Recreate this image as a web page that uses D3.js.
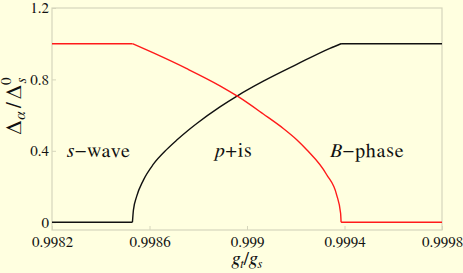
<!DOCTYPE html>
<html>
<head>
<meta charset="utf-8">
<script src="https://cdn.jsdelivr.net/npm/d3@7"></script>
</head>
<body style="margin:0;background:#ffffe0">
<svg id="svg_canvas" width="463" height="273" style="display:block"></svg>
<script>

// values
var x_ticks=[0.9982,0.9986,0.999,0.9994,0.9998];
var x_tick_labels=["0.9982","0.9986","0.999","0.9994","0.9998"];
var y_ticks=[0,0.4,0.8,1.2];
var y_tick_labels=["0","0.4","0.8","1.2"];

var g_black=[0.9982,0.99853,0.998534,0.998547,0.998575,0.998616,0.998671,0.998712,0.998759,0.998794,0.998889,0.998964,0.999067,0.999204,0.99934,0.999386,0.9998];
var delta_black=[0,0,0.068,0.143,0.236,0.325,0.408,0.46,0.515,0.553,0.646,0.711,0.79,0.884,0.974,1,1];

var g_red=[0.9982,0.99853,0.998616,0.998753,0.998889,0.998964,0.999067,0.999149,0.999204,0.999245,0.999327,0.999368,0.999384,0.999386,0.9998];
var delta_red=[1,1,0.948,0.86,0.764,0.703,0.606,0.525,0.462,0.406,0.266,0.152,0.05,0,0];

var phase_names=["s\u2212wave","p+is","B\u2212phase"];
var phase_g=[0.998262,0.998869,0.99934];
var phase_y=[0.365,0.365,0.365];

var serif="FreeSerif";


function set_font(sel,size){
	sel.attr("font-family",serif).style("font-family",serif)
		.attr("font-size",size).style("font-size",size+"px");
	return sel;
}

function draw(){

	var svg=d3.select("#svg_canvas");
	var left_x=52, right_x=442, top_y=8, bottom_y=230;

	svg.append("rect")
		.attr("width",463).attr("height",273)
		.attr("fill","#ffffe0");

	var x=d3.scaleLinear().domain([0.9982,0.9998]).range([left_x,right_x]);
	// zero sits a bit above the frame bottom, 1.2 on the top edge
	var y=d3.scaleLinear().domain([0,1.2]).range([222.2,top_y]);

	// frame
	svg.append("rect")
		.attr("x",left_x).attr("y",top_y)
		.attr("width",right_x-left_x).attr("height",bottom_y-top_y)
		.attr("fill","none")
		.attr("stroke","#d6d6bc")
		.attr("stroke-width",1.2);

	var x_axis=d3.axisBottom(x).tickValues(x_ticks)
		.tickFormat(function(d,i){return x_tick_labels[i];})
		.tickSizeInner(-4).tickSizeOuter(0).tickPadding(6);
	var gx=svg.append("g").attr("transform","translate(0,"+bottom_y+")").call(x_axis);

	var y_axis=d3.axisLeft(y).tickValues(y_ticks)
		.tickFormat(function(d,i){return y_tick_labels[i];})
		.tickSizeInner(-4).tickSizeOuter(0).tickPadding(3);
	var gy=svg.append("g").attr("transform","translate("+left_x+",0)").call(y_axis);

	[gx,gy].forEach(function(g){
		set_font(g,15);
		g.select(".domain").remove();
		g.selectAll(".tick line").attr("stroke","#d6d6bc");
		set_font(g.selectAll(".tick text"),15).attr("fill","#111");
	});

	var line=d3.line()
		.x(function(d){return x(d[0]);})
		.y(function(d){return y(d[1]);});
	var smooth=d3.line()
		.x(function(d){return x(d[0]);})
		.y(function(d){return y(d[1]);})
		.curve(d3.curveMonotoneX);

	var black_data=g_black.map(function(g,i){return [g,delta_black[i]];});
	var red_data=g_red.map(function(g,i){return [g,delta_red[i]];});

	// flat ends straight, the middle part smoothed
	[[black_data,"#111"],[red_data,"#ff1a1a"]].forEach(function(s){
		var d=s[0], n=d.length;
		svg.append("path").datum(d.slice(0,2)).attr("d",line)
			.attr("fill","none").attr("stroke",s[1]).attr("stroke-width",1.4);
		svg.append("path").datum(d.slice(1,n-1)).attr("d",smooth)
			.attr("fill","none").attr("stroke",s[1]).attr("stroke-width",1.4);
		svg.append("path").datum(d.slice(n-2)).attr("d",line)
			.attr("fill","none").attr("stroke",s[1]).attr("stroke-width",1.4);
	});

	function it(t,txt){ return t.append("tspan").attr("font-style","italic").style("font-style","italic").text(txt); }
	function rm(t,txt){ return t.append("tspan").text(txt); }

	// phase labels
	var labels=svg.selectAll("text.phase").data(phase_names).enter()
		.append("text").attr("class","phase")
		.attr("x",function(d,i){return x(phase_g[i]);})
		.attr("y",function(d,i){return y(phase_y[i]);})
		.attr("fill","#111")
		.style("letter-spacing","1px");
	set_font(labels,20);
	labels.each(function(d,i){
		var t=d3.select(this);
		if(i==0){ it(t,"s"); rm(t,"\u2212wave"); }
		if(i==1){ it(t,"p"); rm(t,"+is"); }
		if(i==2){ it(t,"B"); rm(t,"\u2212phase"); }
	});

	// x label  g_t / g_s
	var xl=svg.append("text")
		.attr("x",(left_x+right_x)/2).attr("y",265)
		.attr("text-anchor","middle")
		.attr("fill","#111");
	set_font(xl,19);
	it(xl,"g");
	it(xl,"t").style("font-size","13px").attr("dy",3);
	rm(xl,"/").attr("dy",-3);
	it(xl,"g");
	it(xl,"s").style("font-size","13px").attr("dy",3);

	// y label  Delta_alpha / Delta_s^0
	var yl=svg.append("text")
		.attr("transform","translate(21,106) rotate(-90)")
		.attr("text-anchor","middle")
		.attr("fill","#111");
	set_font(yl,21);
	rm(yl,"\u0394");
	it(yl,"\u03b1").style("font-size","15px").attr("dx",1).attr("dy",4);
	rm(yl,"/").attr("dx",3).attr("dy",-4);
	rm(yl,"\u0394").attr("dx",3);
	it(yl,"s").style("font-size","15px").attr("dx",2).attr("dy",5);
	rm(yl,"0").style("font-size","15px").attr("dx",-7).attr("dy",-15);

}

draw();

</script>
</body>
</html>
